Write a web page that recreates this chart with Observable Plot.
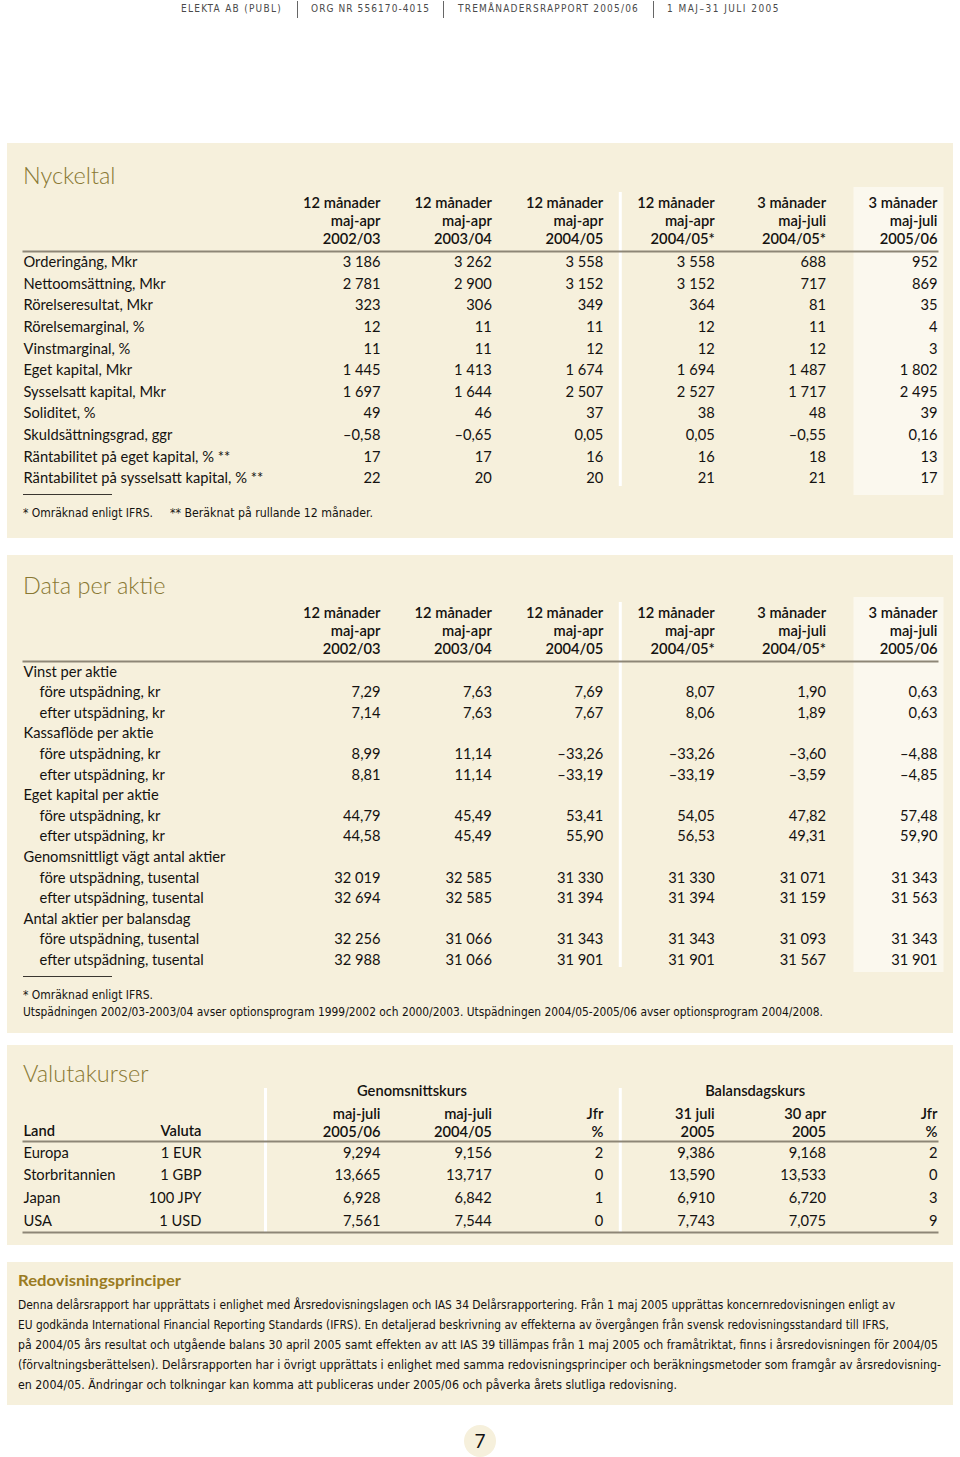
<!DOCTYPE html>
<html lang="sv">
<head>
<meta charset="utf-8">
<script src="https://cdn.jsdelivr.net/npm/d3@7"></script>
<script src="https://cdn.jsdelivr.net/npm/@observablehq/plot@0.6"></script>
<style>
html,body{margin:0;padding:0;background:#fff;}
#page{position:relative;width:960px;height:1457px;overflow:hidden;font-family:Lato,"Open Sans",sans-serif;color:#141210;}
.panel{position:absolute;left:7px;width:946px;background:#f6f0dc;}
.panel svg{position:absolute;left:0;top:0;}
.title{position:absolute;left:16px;font-weight:300;font-size:23.5px;line-height:24px;color:#897833;white-space:nowrap;}
.note{position:absolute;font-family:"Liberation Sans Narrow","DejaVu Sans Condensed",sans-serif;font-size:13px;line-height:14px;white-space:nowrap;transform-origin:0 50%;color:#141210;}
.shortrule{position:absolute;left:16px;width:89px;border-top:1px solid #3a3630;}
.hdr{position:absolute;top:3px;font-family:"Liberation Sans Narrow","DejaVu Sans Condensed",sans-serif;font-size:10px;line-height:12px;color:#4a4a4a;white-space:nowrap;}
.bar{position:absolute;top:1px;width:1px;height:17px;background:#666;}
</style>
</head>
<body>
<div id="page"></div>
<script>
// ---------------- DATA ----------------
const headerSegments = ["ELEKTA AB (PUBL)", "ORG NR 556170-4015", "TREMÅNADERSRAPPORT 2005/06", "1 MAJ–31 JULI 2005"];

const colKeys = ["c1", "c2", "c3", "c4", "c5", "c6"];

const periodHeaders = [
  "12 månader\nmaj-apr\n2002/03",
  "12 månader\nmaj-apr\n2003/04",
  "12 månader\nmaj-apr\n2004/05",
  "12 månader\nmaj-apr\n2004/05*",
  "3 månader\nmaj-juli\n2004/05*",
  "3 månader\nmaj-juli\n2005/06"
];

const nyckelLabels = [
  "Orderingång, Mkr", "Nettoomsättning, Mkr", "Rörelseresultat, Mkr", "Rörelsemarginal, %",
  "Vinstmarginal, %", "Eget kapital, Mkr", "Sysselsatt kapital, Mkr", "Soliditet, %",
  "Skuldsättningsgrad, ggr", "Räntabilitet på eget kapital, % **", "Räntabilitet på sysselsatt kapital, % **"
];
const nyckelDecimals = [0, 0, 0, 0, 0, 0, 0, 0, 2, 0, 0];
const nyckelValues = [
  [3186, 3262, 3558, 3558, 688, 952],
  [2781, 2900, 3152, 3152, 717, 869],
  [323, 306, 349, 364, 81, 35],
  [12, 11, 11, 12, 11, 4],
  [11, 11, 12, 12, 12, 3],
  [1445, 1413, 1674, 1694, 1487, 1802],
  [1697, 1644, 2507, 2527, 1717, 2495],
  [49, 46, 37, 38, 48, 39],
  [-0.58, -0.65, 0.05, 0.05, -0.55, 0.16],
  [17, 17, 16, 16, 18, 13],
  [22, 20, 20, 21, 21, 17]
];
const nyckelNotes = ["* Omräknad enligt IFRS.", "** Beräknat på rullande 12 månader."];

const aktieLabels = [
  "Vinst per aktie", "före utspädning, kr", "efter utspädning, kr",
  "Kassaflöde per aktie", "före utspädning, kr", "efter utspädning, kr",
  "Eget kapital per aktie", "före utspädning, kr", "efter utspädning, kr",
  "Genomsnittligt vägt antal aktier", "före utspädning, tusental", "efter utspädning, tusental",
  "Antal aktier per balansdag", "före utspädning, tusental", "efter utspädning, tusental"
];
const aktieIndent = [0, 1, 1, 0, 1, 1, 0, 1, 1, 0, 1, 1, 0, 1, 1];
const aktieDecimals = [2, 2, 2, 2, 2, 2, 2, 2, 2, 0, 0, 0, 0, 0, 0];
const aktieValues = [
  null,
  [7.29, 7.63, 7.69, 8.07, 1.90, 0.63],
  [7.14, 7.63, 7.67, 8.06, 1.89, 0.63],
  null,
  [8.99, 11.14, -33.26, -33.26, -3.60, -4.88],
  [8.81, 11.14, -33.19, -33.19, -3.59, -4.85],
  null,
  [44.79, 45.49, 53.41, 54.05, 47.82, 57.48],
  [44.58, 45.49, 55.90, 56.53, 49.31, 59.90],
  null,
  [32019, 32585, 31330, 31330, 31071, 31343],
  [32694, 32585, 31394, 31394, 31159, 31563],
  null,
  [32256, 31066, 31343, 31343, 31093, 31343],
  [32988, 31066, 31901, 31901, 31567, 31901]
];
const aktieNotes = [
  "* Omräknad enligt IFRS.",
  "Utspädningen 2002/03-2003/04 avser optionsprogram 1999/2002 och 2000/2003. Utspädningen 2004/05-2005/06 avser optionsprogram 2004/2008."
];

const valutaGroups = ["Genomsnittskurs", "Balansdagskurs"];
const valutaHeaders = ["maj-juli\n2005/06", "maj-juli\n2004/05", "Jfr\n%", "31 juli\n2005", "30 apr\n2005", "Jfr\n%"];
const valutaLand = ["Europa", "Storbritannien", "Japan", "USA"];
const valutaValuta = ["1 EUR", "1 GBP", "100 JPY", "1 USD"];
const valutaSnitt0506 = [9.294, 13.665, 6.928, 7.561];
const valutaSnitt0405 = [9.156, 13.717, 6.842, 7.544];
const valutaSnittJfr = [2, 0, 1, 0];
const valutaBalansJul05 = [9.386, 13.590, 6.910, 7.743];
const valutaBalansApr05 = [9.168, 13.533, 6.720, 7.075];
const valutaBalansJfr = [2, 0, 3, 9];
const valutaDecimals = [3, 3, 0, 3, 3, 0];

const principTitle = "Redovisningsprinciper";
const principLines = [
  "Denna delårsrapport har upprättats i enlighet med Årsredovisningslagen och IAS 34 Delårsrapportering. Från 1 maj 2005 upprättas koncernredovisningen enligt av",
  "EU godkända International Financial Reporting Standards (IFRS). En detaljerad beskrivning av effekterna av övergången från svensk redovisningsstandard till IFRS,",
  "på 2004/05 års resultat och utgående balans 30 april 2005 samt effekten av att IAS 39 tillämpas från 1 maj 2005 och framåtriktat, finns i årsredovisningen för 2004/05",
  "(förvaltningsberättelsen). Delårsrapporten har i övrigt upprättats i enlighet med samma redovisningsprinciper och beräkningsmetoder som framgår av årsredovisning-",
  "en 2004/05. Ändringar och tolkningar kan komma att publiceras under 2005/06 och påverka årets slutliga redovisning."
];
const pageNumber = "7";

// ---------------- STYLE ----------------
const BG = "#f6f0dc", HL = "#fbf8ee", RULE = "#8d8676", INK = "#141210";
const W = 946;
const xRange = [373, 930];
const FONT = "Lato, 'Open Sans', sans-serif";
const sv = d3.formatLocale({decimal: ",", thousands: " ", grouping: [3], currency: ["", ""], minus: "–"});
const fmts = {0: sv.format(",d"), 2: sv.format(",.2f"), 3: sv.format(",.3f")};

const page = document.getElementById("page");
function el(tag, cls, parent, css, text) {
  const e = document.createElement(tag);
  if (cls) e.className = cls;
  Object.assign(e.style, css || {});
  if (text != null) e.textContent = text;
  (parent || page).appendChild(e);
  return e;
}
function panel(top, height) { return el("div", "panel", page, {top: top + "px", height: height + "px"}); }
function fitScale(e, target) {
  const w = e.getBoundingClientRect().width;
  if (w > 0) e.style.transform = `scaleX(${target / w})`;
}
function fitSpacing(e, target) {
  const w = e.getBoundingClientRect().width;
  const n = e.textContent.length;
  e.style.letterSpacing = ((target - w) / n) + "px";
}

// ---------------- HEADER ----------------
const segX = [181, 311, 458, 667], segW = [101, 119, 181, 113];
headerSegments.forEach((s, i) => {
  const e = el("div", "hdr", page, {left: segX[i] + "px"}, s);
  fitSpacing(e, segW[i]);
});
[297, 443, 653].forEach(x => el("div", "bar", page, {left: x + "px"}));

function baseScales(nRows) {
  return {
    x: {type: "point", domain: colKeys, range: xRange, padding: 0, round: false, axis: null},
    y: {type: "band", domain: d3.range(nRows), padding: 0, round: false, axis: null}
  };
}
function cellsFrom(cols) {
  const out = [];
  cols.forEach((row, i) => { if (row) row.forEach((v, j) => out.push({row: i, col: colKeys[j], v})); });
  return out;
}
const plotStyle = {fontFamily: FONT, fontSize: "14.7px", background: "transparent", color: INK, overflow: "visible"};
const headOpts = {frameAnchor: "top", lineAnchor: "middle", textAnchor: "end", lineHeight: 1.22, fontWeight: 600};

// ---------------- PANEL 1: NYCKELTAL ----------------
{
  const p = panel(143, 395);
  el("div", "title", p, {top: "20px"}, "Nyckeltal");
  const cells = cellsFrom(nyckelValues);
  const chart = Plot.plot({
    width: W, height: 395,
    marginTop: 108, marginBottom: 49, marginLeft: 16, marginRight: 16,
    ...baseScales(nyckelLabels.length),
    style: plotStyle,
    marks: [
      Plot.ruleX(["c6"], {x: d => d, stroke: HL, strokeWidth: 90, dx: -39, insetTop: -64, insetBottom: -6}),
      Plot.ruleX(["c3"], {x: d => d, stroke: "#ffffff", strokeWidth: 3, dx: 17, insetTop: -59, insetBottom: 3}),
      Plot.frame({anchor: "top", stroke: RULE, strokeWidth: 2}),
      Plot.text(colKeys, {x: d => d, text: (d, i) => periodHeaders[i], ...headOpts, dy: -31}),
      Plot.text(d3.range(nyckelLabels.length), {y: d => d, text: d => nyckelLabels[d], frameAnchor: "left", textAnchor: "start"}),
      Plot.text(cells, {x: "col", y: "row", text: d => fmts[nyckelDecimals[d.row]](d.v), textAnchor: "end"})
    ]
  });
  p.appendChild(chart);
  el("div", "shortrule", p, {top: "351px"});
  const n1 = el("div", "note", p, {left: "16px", top: "363px"}, nyckelNotes[0]);
  const n2 = el("div", "note", p, {left: "163px", top: "363px"}, nyckelNotes[1]);
  fitScale(n1, 130); fitScale(n2, 203);
}

// ---------------- PANEL 2: DATA PER AKTIE ----------------
{
  const p = panel(555, 478);
  el("div", "title", p, {top: "18px"}, "Data per aktie");
  const cells = cellsFrom(aktieValues);
  const idx = d3.range(aktieLabels.length);
  const chart = Plot.plot({
    width: W, height: 478,
    marginTop: 106, marginBottom: 63, marginLeft: 16, marginRight: 16,
    ...baseScales(aktieLabels.length),
    style: plotStyle,
    marks: [
      Plot.ruleX(["c6"], {x: d => d, stroke: HL, strokeWidth: 90, dx: -39, insetTop: -64, insetBottom: -2}),
      Plot.ruleX(["c3"], {x: d => d, stroke: "#ffffff", strokeWidth: 3, dx: 17, insetTop: -59, insetBottom: 3}),
      Plot.frame({anchor: "top", stroke: RULE, strokeWidth: 2}),
      Plot.text(colKeys, {x: d => d, text: (d, i) => periodHeaders[i], ...headOpts, dy: -31}),
      Plot.text(idx.filter(i => !aktieIndent[i]), {y: d => d, text: d => aktieLabels[d], frameAnchor: "left", textAnchor: "start"}),
      Plot.text(idx.filter(i => aktieIndent[i]), {y: d => d, text: d => aktieLabels[d], frameAnchor: "left", textAnchor: "start", dx: 16}),
      Plot.text(cells, {x: "col", y: "row", text: d => fmts[aktieDecimals[d.row]](d.v), textAnchor: "end"})
    ]
  });
  p.appendChild(chart);
  el("div", "shortrule", p, {top: "421px"});
  const n1 = el("div", "note", p, {left: "16px", top: "433px"}, aktieNotes[0]);
  const n2 = el("div", "note", p, {left: "16px", top: "450px"}, aktieNotes[1]);
  fitScale(n1, 130); fitScale(n2, 800);
}

// ---------------- PANEL 3: VALUTAKURSER ----------------
{
  const p = panel(1045, 200);
  el("div", "title", p, {top: "16px"}, "Valutakurser");
  const series = [valutaSnitt0506, valutaSnitt0405, valutaSnittJfr, valutaBalansJul05, valutaBalansApr05, valutaBalansJfr];
  const cells = [];
  valutaLand.forEach((_, i) => series.forEach((s, j) => cells.push({row: i, col: colKeys[j], v: s[i], dec: valutaDecimals[j]})));
  const idx = d3.range(valutaLand.length);
  const chart = Plot.plot({
    width: W, height: 200,
    marginTop: 96, marginBottom: 13, marginLeft: 16, marginRight: 16,
    ...baseScales(valutaLand.length),
    style: plotStyle,
    marks: [
      Plot.ruleX(["c1"], {x: d => d, stroke: "#ffffff", strokeWidth: 3, dx: -115, insetTop: -53, insetBottom: -1}),
      Plot.ruleX(["c3"], {x: d => d, stroke: "#ffffff", strokeWidth: 3, dx: 17, insetTop: -53, insetBottom: -1}),
      Plot.frame({anchor: "top", stroke: RULE, strokeWidth: 2}),
      Plot.frame({anchor: "bottom", stroke: RULE, strokeWidth: 2}),
      Plot.text(["c2"], {x: d => d, text: () => valutaGroups[0], frameAnchor: "top", lineAnchor: "middle", textAnchor: "middle", fontWeight: 600, dx: -80, dy: -50}),
      Plot.text(["c5"], {x: d => d, text: () => valutaGroups[1], frameAnchor: "top", lineAnchor: "middle", textAnchor: "middle", fontWeight: 600, dx: -71, dy: -50}),
      Plot.text(colKeys, {x: d => d, text: (d, i) => valutaHeaders[i], ...headOpts, dy: -19}),
      Plot.text(["Land"], {text: d => d, frameAnchor: "top-left", lineAnchor: "middle", textAnchor: "start", fontWeight: 600, dy: -10}),
      Plot.text(["Valuta"], {text: d => d, frameAnchor: "top-left", lineAnchor: "middle", textAnchor: "end", fontWeight: 600, dx: 178, dy: -10}),
      Plot.text(idx, {y: d => d, text: d => valutaLand[d], frameAnchor: "left", textAnchor: "start"}),
      Plot.text(idx, {y: d => d, text: d => valutaValuta[d], frameAnchor: "left", textAnchor: "end", dx: 178}),
      Plot.text(cells, {x: "col", y: "row", text: d => fmts[d.dec](d.v), textAnchor: "end"})
    ]
  });
  p.appendChild(chart);
}

// ---------------- PANEL 4: REDOVISNINGSPRINCIPER ----------------
{
  const p = panel(1262, 143);
  const t = el("div", "", p, {position: "absolute", left: "11px", top: "8px", font: "700 16px Lato, sans-serif", color: "#9a7b22", whiteSpace: "nowrap", transformOrigin: "0 50%"}, principTitle);
  fitScale(t, 163);
  const targets = [877, 871, 920, 923, 659];
  principLines.forEach((s, i) => {
    const e = el("div", "note", p, {left: "11px", top: (36 + i * 20) + "px"}, s);
    fitScale(e, targets[i]);
  });
}

// ---------------- PAGE NUMBER ----------------
el("div", "", page, {position: "absolute", left: "464px", top: "1425px", width: "32px", height: "32px", borderRadius: "50%", background: BG, font: "19px Lato, sans-serif", lineHeight: "32px", textAlign: "center", color: "#111"}, pageNumber);
</script>
</body>
</html>
